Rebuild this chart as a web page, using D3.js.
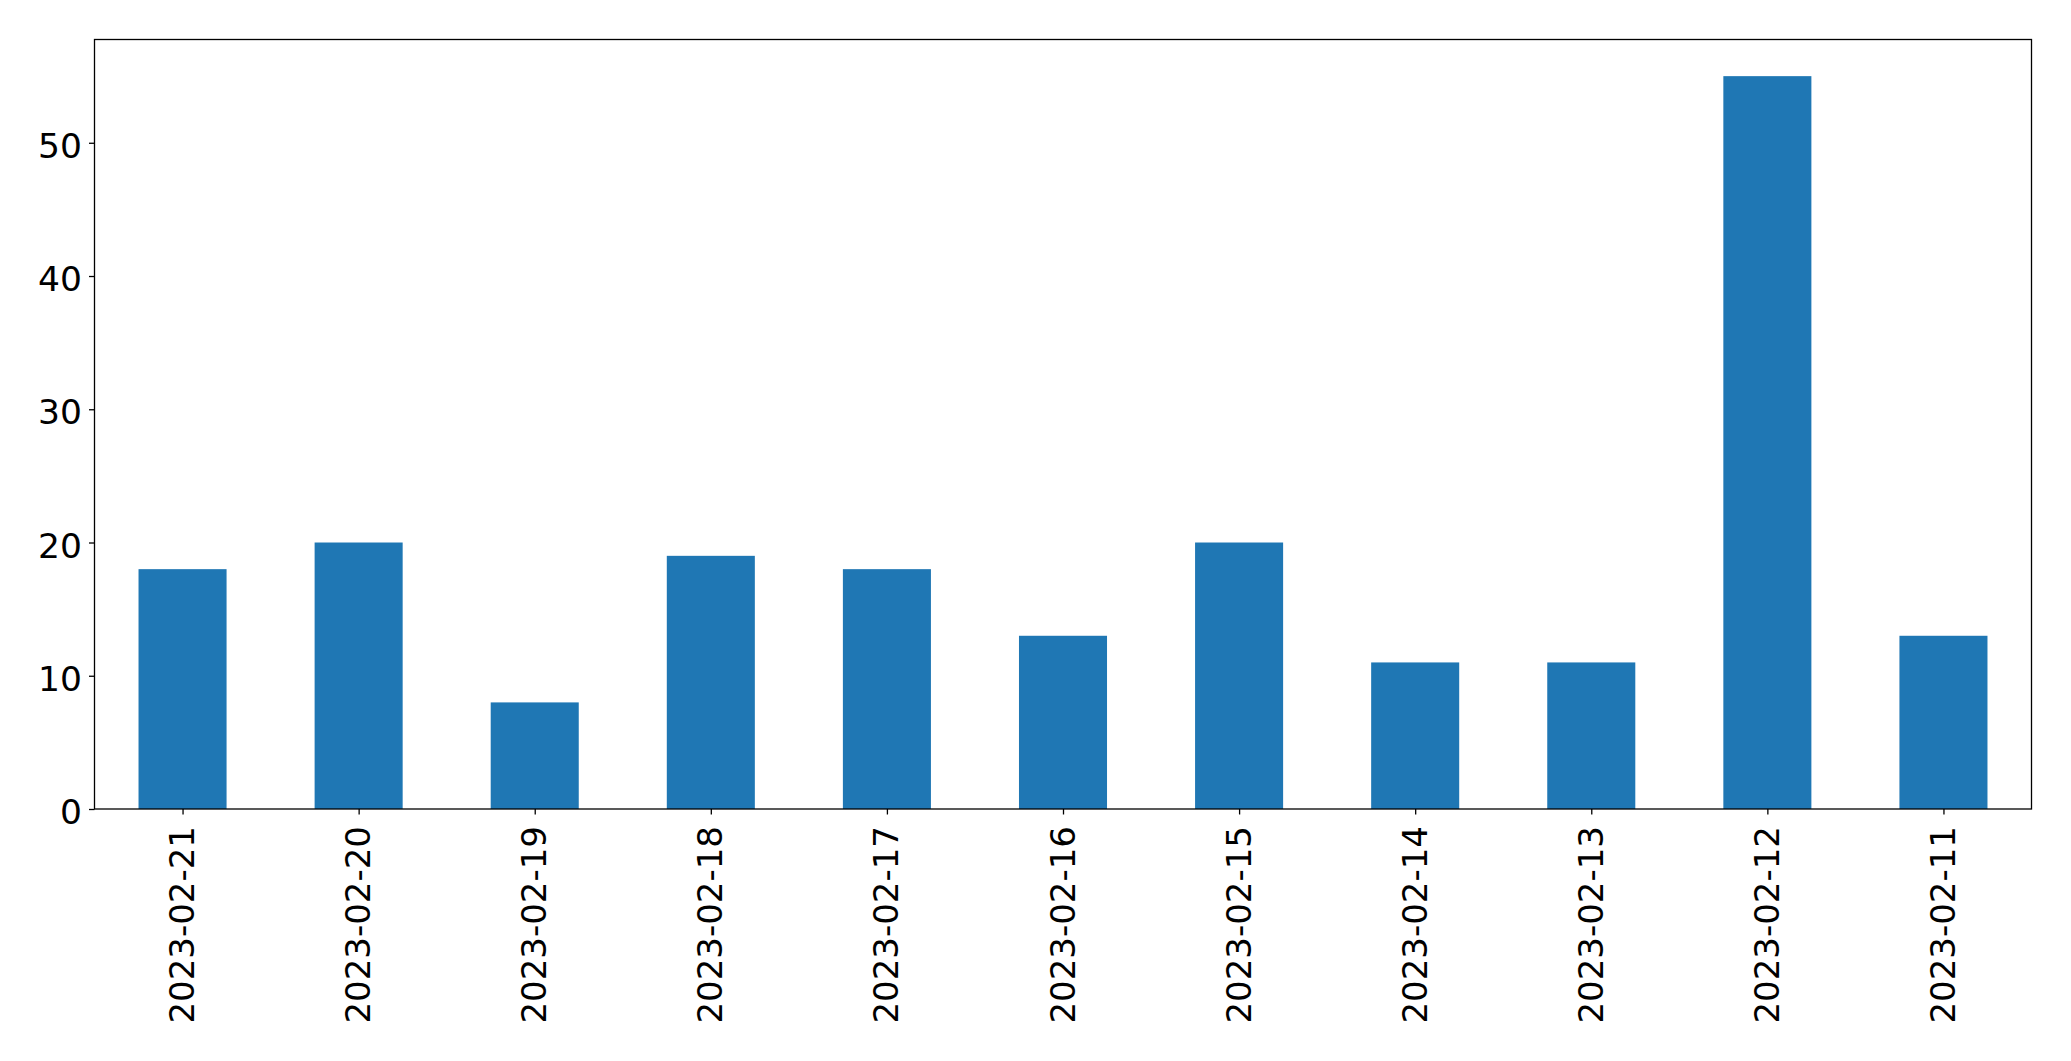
<!DOCTYPE html>
<html>
<head>
<meta charset="utf-8">
<script src="https://cdn.jsdelivr.net/npm/d3@7"></script>
<style>
  body { margin: 0; background: #fff; }
  svg { display: block; }
</style>
</head>
<body>
<script>
// data
const dates = ["2023-02-21", "2023-02-20", "2023-02-19", "2023-02-18", "2023-02-17",
  "2023-02-16", "2023-02-15", "2023-02-14", "2023-02-13", "2023-02-12", "2023-02-11"];
const counts = [18, 20, 8, 19, 18, 13, 20, 11, 11, 55, 13];
const yTicks = [0, 10, 20, 30, 40, 50];

const WIDTH = 2071, HEIGHT = 1061;
const margin = {left: 94.5, right: 2031.5, top: 39.5, bottom: 809};
const FONT = "DejaVu Sans, sans-serif";

const svg = d3.select("body").append("svg")
    .attr("width", WIDTH)
    .attr("height", HEIGHT);

// pandas style bar positions: -0.5 .. n-0.5, bar width 0.5
const x = d3.scaleLinear()
    .domain([-0.5, dates.length - 0.5])
    .range([margin.left, margin.right]);

const y = d3.scaleLinear()
    .domain([0, d3.max(counts) * 1.05])
    .range([margin.bottom, margin.top]);

// bars
svg.append("g")
    .selectAll("rect")
    .data(counts)
    .enter()
    .append("rect")
    .attr("x", (d, i) => x(i - 0.25))
    .attr("width", (d, i) => x(i + 0.25) - x(i - 0.25))
    .attr("y", d => y(d))
    .attr("height", d => y(0) - y(d))
    .attr("fill", "#1f77b4");

// y axis
const yAxis = svg.append("g")
    .attr("transform", `translate(${margin.left},0)`)
    .call(d3.axisLeft(y).tickValues(yTicks).tickSize(5.5).tickPadding(7));
yAxis.select(".domain").remove();
yAxis.selectAll("line").attr("stroke", "#000").attr("stroke-width", 1.3);
yAxis.selectAll("text")
    .attr("font-family", FONT)
    .attr("font-size", 34.5)
    .attr("fill", "#000")
    .attr("dy", "0.42em");

// x axis
const xAxis = svg.append("g")
    .attr("transform", `translate(0,${margin.bottom})`)
    .call(d3.axisBottom(x)
        .tickValues(d3.range(dates.length))
        .tickFormat(i => dates[i])
        .tickSize(5.5));
xAxis.select(".domain").remove();
xAxis.selectAll("line").attr("stroke", "#000").attr("stroke-width", 1.3);
xAxis.selectAll("text")
    .attr("font-family", FONT)
    .attr("font-size", 34)
    .attr("fill", "#000")
    .attr("text-anchor", "end")
    .attr("dominant-baseline", "central")
    .attr("y", 0)
    .attr("dy", 0)
    .attr("transform", "translate(-1,17) rotate(-90)");

// frame
svg.append("rect")
    .attr("x", margin.left)
    .attr("y", margin.top)
    .attr("width", margin.right - margin.left)
    .attr("height", margin.bottom - margin.top)
    .attr("fill", "none")
    .attr("stroke", "#000")
    .attr("stroke-width", 1.3);
</script>
</body>
</html>
